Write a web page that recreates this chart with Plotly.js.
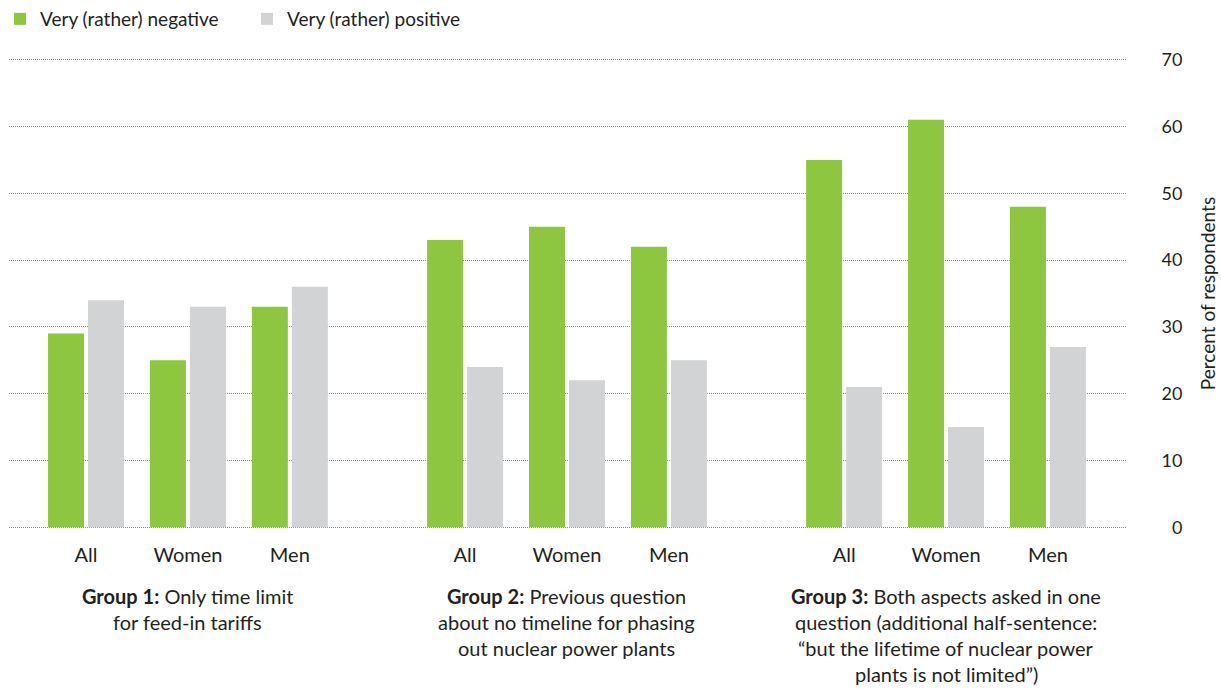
<!DOCTYPE html>
<html><head><meta charset="utf-8">
<script src="https://cdn.plot.ly/plotly-3.0.1.min.js"></script>
<style>html,body{margin:0;padding:0;background:#fff}</style>
</head><body><div id="chart" style="width:1221px;height:689px"></div>
<script>
const subgroups = ["All", "Women", "Men"];
const groupTitles = ["Group 1:", "Group 2:", "Group 3:"];
const groupLines = [
  ["Only time limit", "for feed-in tariffs"],
  ["Previous question", "about no timeline for phasing", "out nuclear power plants"],
  ["Both aspects asked in one", "question (additional half-sentence:", "“but the lifetime of nuclear power", "plants is not limited”)"]
];
const negative = [29, 25, 33, 43, 45, 42, 55, 61, 48];
const positive = [34, 33, 36, 24, 22, 25, 21, 15, 27];
const yTicks = [0, 10, 20, 30, 40, 50, 60, 70];
const seriesNames = ["Very (rather) negative", "Very (rather) positive"];

const groupStep = 3.72;
const xs = [], labels = [];
groupTitles.forEach((g, gi) => subgroups.forEach((s, si) => { xs.push(gi * groupStep + si); labels.push(s); }));

const FONT = "Lato, 'Open Sans', sans-serif";
const TXT = "#231f20";

const traces = [
  {type: "bar", name: seriesNames[0], x: xs, y: negative, marker: {color: "#8dc63f"}, hoverinfo: "y"},
  {type: "bar", name: seriesNames[1], x: xs, y: positive, marker: {color: "#d1d3d4"}, hoverinfo: "y"}
];

// plot geometry: 0 at 527px, 70 at 60px; range padded slightly so end gridlines are drawn
const pad = 0.25;
const unitPx = (527 - 60) / 70;
const plotTopPx = 60 - pad * unitPx, plotBotPx = 527 + pad * unitPx;
const mTop = plotTopPx, mBottom = 689 - plotBotPx;

const annotations = [];
groupTitles.forEach((g, gi) => {
  groupLines[gi].forEach((line, li) => {
    const py = 596 + 25.7 * li;
    annotations.push({
      x: gi * groupStep + 1, xref: "x", y: (plotBotPx - py) / (plotBotPx - plotTopPx), yref: "paper",
      xanchor: "center", yanchor: "middle", align: "center", showarrow: false,
      text: (li === 0 ? "<b>" + g + "</b> " : "") + line,
      font: {family: FONT, size: 20, color: TXT}
    });
  });
});

const layout = {
  width: 1221, height: 689,
  margin: {l: 9, r: 94, t: mTop, b: mBottom},
  paper_bgcolor: "#fff", plot_bgcolor: "#fff",
  font: {family: FONT, size: 18, color: TXT},
  barmode: "group", bargap: 0.215, bargroupgap: 0.1,
  showlegend: true,
  legend: {orientation: "h", xref: "paper", yref: "container", x: -0.0134, y: 1, xanchor: "left", yanchor: "top",
           font: {family: FONT, size: 19, color: TXT}, traceorder: "normal", itemwidth: 30, entrywidth: 202},
  xaxis: {range: [-0.756, 10.216], tickvals: xs, ticktext: labels, showgrid: false, zeroline: false,
          ticks: "outside", ticklen: 8, tickcolor: "rgba(0,0,0,0)", showline: false,
          tickfont: {family: FONT, size: 20, color: TXT}, fixedrange: true},
  yaxis: {side: "right", range: [-pad, 70 + pad], tickvals: yTicks, ticktext: yTicks.map(v => v < 10 ? "\u2007" + v : String(v)),
          showgrid: true, gridcolor: "#8a8a8a", griddash: "1px,1px", gridwidth: 1, zeroline: false, showline: false,
          ticks: "outside", ticklen: 30, tickcolor: "rgba(0,0,0,0)",
          tickfont: {family: FONT, size: 18, color: TXT},
          title: {text: "Percent of respondents", standoff: 20, font: {family: FONT, size: 19, color: TXT}}},
  annotations: annotations
};

Plotly.newPlot("chart", traces, layout, {displayModeBar: false, staticPlot: true});
</script></body></html>
